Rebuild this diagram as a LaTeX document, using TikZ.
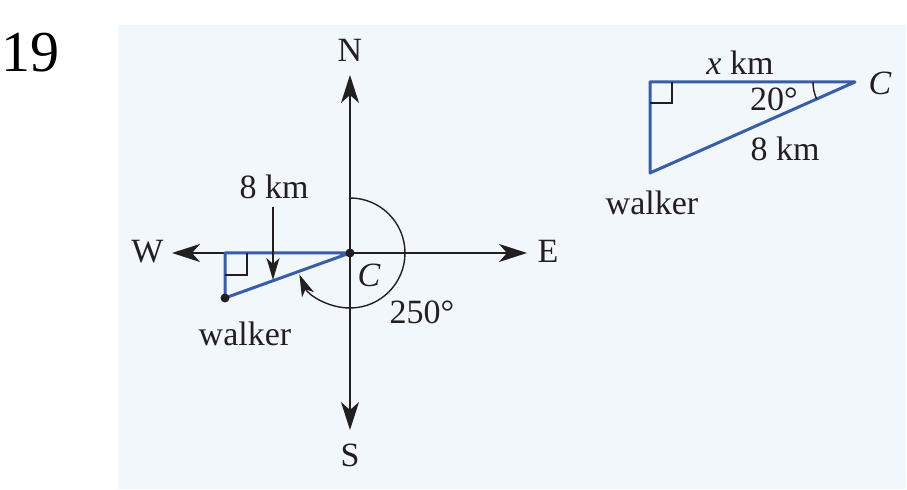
\documentclass[tikz,border=0pt]{standalone}
\usepackage{fontspec}
\setmainfont{Liberation Serif}
\usetikzlibrary{arrows.meta}
\definecolor{bg}{HTML}{F2F7FC}
\definecolor{tri}{HTML}{3A5DA8}
\definecolor{ink}{HTML}{231F20}
\begin{document}
\begin{tikzpicture}[x=0.5pt,y=0.5pt,
 lbl/.style={font=\fontsize{17pt}{20pt}\selectfont, text=ink, inner sep=0pt},
 bigtip/.style={-{Stealth[length=14pt,width=9pt,inset=4pt]}},
 smalltip/.style={-{Stealth[length=11pt,width=6.5pt,inset=3pt]}},
 axis/.style={draw=ink, line width=0.9pt, bigtip},
 blueline/.style={draw=tri, line width=1.5pt, line join=round},
 thinline/.style={draw=ink, line width=0.7pt},
 dotst/.style={circle, fill=ink, inner sep=0pt, minimum size=4.5pt}]
\useasboundingbox (0,0) rectangle (907,-490);
\fill[bg] (118,-25) rectangle (906,-489);
% question number
\node[font=\fontsize{29pt}{32pt}\selectfont, text=black, inner sep=0pt] (num) at (31,-53) {19};
% compass
\coordinate (C) at (350,-253);
\coordinate (Ntip) at (350,-75);
\coordinate (Stip) at (350,-430);
\coordinate (Etip) at (527,-253);
\coordinate (Wtip) at (172,-253);
\node[lbl] (N) at (350,-50) {N};
\node[lbl] (S) at (350,-455.5) {S};
\node[lbl] (E) at (548,-251.5) {E};
\node[lbl] (W) at (147.5,-251.5) {W};
\draw[axis] (C) -- (Ntip);
\draw[axis] (C) -- (Stip);
\draw[axis] (C) -- (Etip);
\draw[axis] (C) -- (Wtip);
% bearing arc
\draw[thinline, smalltip] (C) ++(90:27.5pt) arc[start angle=90, end angle=-157, radius=27.5pt];
% left triangle
\coordinate (RA) at (225,-253);
\coordinate (walkerpt) at (225,-298);
\draw[blueline] (C) -- (RA) -- (walkerpt) -- cycle;
\draw[thinline] (247,-253) -- (247,-275) -- (225,-275);
\node[dotst] (Cdot) at (C) {};
\node[dotst] (walkerdot) at (walkerpt) {};
\node[lbl] (km8) at (274,-186.5) {8 km};
\coordinate (k8tip) at (273,-280);
\draw[thinline, smalltip, shorten <=4pt] (km8.south -| k8tip) -- (k8tip);
\node[lbl] (Clbl) at (369,-275.5) {\itshape C};
\node[lbl] (ang) at (422,-312.5) {250°};
\node[lbl] (walker) at (245,-334) {walker};
% right triangle
\coordinate (C2) at (855,-82);
\coordinate (RA2) at (650,-82);
\coordinate (W2) at (650,-173);
\draw[blueline] (C2) -- (RA2) -- (W2) -- cycle;
\draw[thinline] (672,-82) -- (672,-103) -- (650,-103);
\draw[thinline] (C2) ++(180:21pt) arc[start angle=180, end angle=204, radius=21pt];
\node[lbl] (xkm) at (740,-62.5) {{\itshape x} km};
\node[lbl] (a20) at (774,-99) {20°};
\node[lbl] (km8b) at (785,-149) {8 km};
\node[lbl] (C2lbl) at (880,-83.5) {\itshape C};
\node[lbl] (walker2) at (652,-203) {walker};
\end{tikzpicture}
\end{document}
